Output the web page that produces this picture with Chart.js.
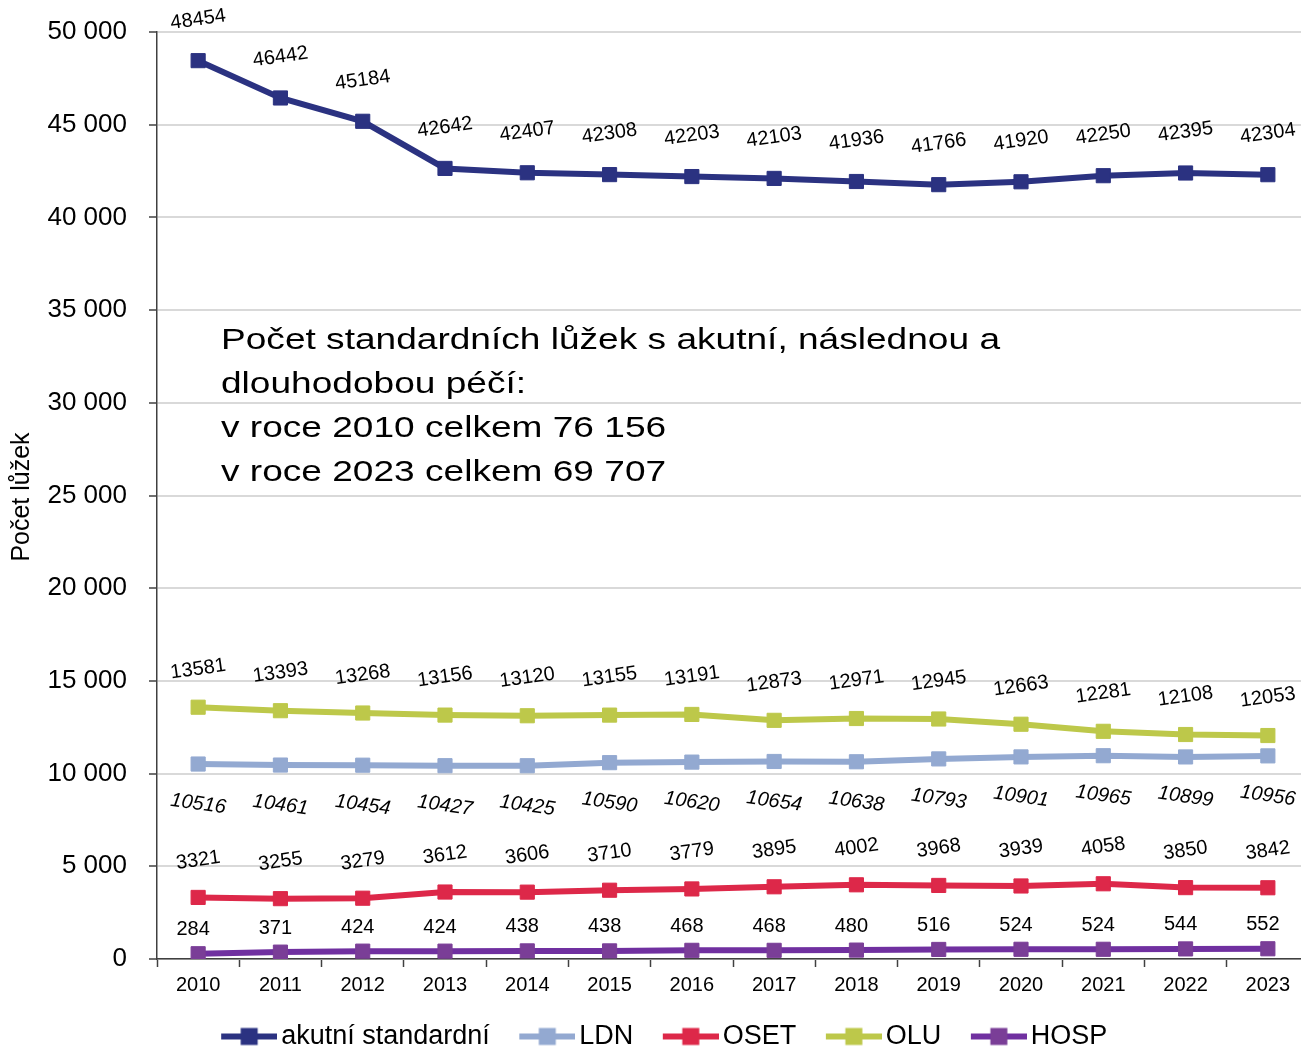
<!DOCTYPE html>
<html><head><meta charset="utf-8">
<script src="https://cdn.jsdelivr.net/npm/chart.js@4.4.1/dist/chart.umd.min.js"></script>
<style>html,body{margin:0;padding:0;overflow:hidden;background:#fff}canvas{display:block}</style>
</head><body><canvas id="c" width="1310" height="1060" style="width:1310px;height:1060px"></canvas>
<script>
const years = ['2010','2011','2012','2013','2014','2015','2016','2017','2018','2019','2020','2021','2022','2023'];
const akutni = [48454,46442,45184,42642,42407,42308,42203,42103,41936,41766,41920,42250,42395,42304];
const ldn    = [10516,10461,10454,10427,10425,10590,10620,10654,10638,10793,10901,10965,10899,10956];
const oset   = [3321,3255,3279,3612,3606,3710,3779,3895,4002,3968,3939,4058,3850,3842];
const olu    = [13581,13393,13268,13156,13120,13155,13191,12873,12971,12945,12663,12281,12108,12053];
const hosp   = [284,371,424,424,438,438,468,468,480,516,524,524,544,552];
const seriesNames = ['akutní standardní','LDN','OSET','OLU','HOSP'];
const yMin = 0, yMax = 50000, yStep = 5000;
const yTitle = 'Počet lůžek';
const noteLines = ['Počet standardních lůžek s akutní, následnou a','dlouhodobou péčí:','v roce 2010 celkem 76 156','v roce 2023 celkem 69 707'];

const FONT = "'Liberation Sans', Arial, sans-serif";
const colors = ['#2B3281','#93A9D1','#DD2849','#BDC84A','#7A3E97'];
const lineColors = ['#2B3281','#93A9D1','#DD2849','#BDC84A','#7030A0'];
const labelStyle = [
  {dx:0, dy:-41, rot:-8, italic:false},
  {dx:0, dy:40, rot:8, italic:true},
  {dx:0, dy:-37, rot:-8, italic:false},
  {dx:0, dy:-38, rot:-8, italic:false},
  {dx:-5, dy:-24, rot:0, italic:false}
];

function legendImg(lc, mc){
  const c = document.createElement('canvas');
  c.width = 85; c.height = 20;
  const g = c.getContext('2d');
  g.strokeStyle = lc; g.lineWidth = 6;
  g.beginPath(); g.moveTo(29,10); g.lineTo(85,10); g.stroke();
  g.fillStyle = mc; g.fillRect(48.5,1.5,17,17);
  return c;
}
const legendImgs = colors.map((c,i)=>legendImg(lineColors[i], c));

const seriesData = [akutni, ldn, oset, olu, hosp];
const datasets = seriesData.map((d,i)=>({
  label: seriesNames[i], data: d,
  borderColor: lineColors[i], backgroundColor: colors[i],
  pointBackgroundColor: colors[i], pointBorderColor: colors[i],
  borderWidth: 6, pointStyle: 'rect', pointRadius: 10, pointBorderWidth: 1,
  pointHoverRadius: 10, tension: 0, fill: false
}));

const labelPlugin = {
  id: 'vals',
  afterDatasetsDraw(chart){
    const ctx = chart.ctx;
    chart.data.datasets.forEach((ds, i)=>{
      const meta = chart.getDatasetMeta(i);
      const st = labelStyle[i];
      meta.data.forEach((pt, j)=>{
        ctx.save();
        ctx.translate(pt.x + st.dx, pt.y + st.dy);
        ctx.rotate(st.rot * Math.PI/180);
        ctx.font = (st.italic ? 'italic ' : '') + '20px ' + FONT;
        ctx.fillStyle = '#000';
        ctx.textAlign = 'center'; ctx.textBaseline = 'middle';
        ctx.fillText(String(ds.data[j]), 0, 0);
        ctx.restore();
      });
    });
  }
};

const textPlugin = {
  id: 'texts',
  afterDraw(chart){
    const ctx = chart.ctx;
    ctx.save();
    ctx.translate(22, 497);
    ctx.rotate(-Math.PI/2);
    ctx.font = '25px ' + FONT;
    ctx.fillStyle = '#000'; ctx.textAlign = 'center'; ctx.textBaseline = 'middle';
    ctx.fillText(yTitle, 0, 0);
    ctx.restore();
    ctx.save();
    ctx.font = '30px ' + FONT;
    const w = ctx.measureText(noteLines[0]).width;
    const sx = 779 / w;
    ctx.fillStyle = '#000'; ctx.textAlign = 'left'; ctx.textBaseline = 'middle';
    noteLines.forEach((t, k)=>{
      ctx.save();
      ctx.translate(221, 341 + k*44);
      ctx.scale(sx, 1);
      ctx.fillText(t, 0, 0);
      ctx.restore();
    });
    ctx.restore();
  }
};

new Chart(document.getElementById('c'), {
  type: 'line',
  data: { labels: years, datasets },
  options: {
    responsive: false, animation: false, devicePixelRatio: 1,
    layout: { autoPadding: false, padding: { top: 32, right: 1, left: 0, bottom: 0 } },
    plugins: {
      tooltip: { enabled: false },
      legend: {
        position: 'bottom',
        labels: {
          usePointStyle: true, pointStyleWidth: 66, boxHeight: 20, padding: 10,
          color: '#000', font: { family: FONT, size: 27 },
          generateLabels: (chart)=> chart.data.datasets.map((ds,i)=>({
            text: ds.label, pointStyle: legendImgs[i], fillStyle: colors[i],
            strokeStyle: colors[i], lineWidth: 0, hidden: false, datasetIndex: i, fontColor: '#000'
          }))
        }
      }
    },
    scales: {
      x: {
        offset: true,
        grid: { offset: true, drawOnChartArea: false, drawTicks: true, tickLength: 8, tickColor: '#404040', tickWidth: 1.5 },
        border: { color: '#404040', width: 1.5 },
        ticks: { color: '#000', font: { family: FONT, size: 20 }, padding: 6, maxRotation: 0 },
        afterFit: (s)=>{ s.height = 54; }
      },
      y: {
        min: yMin, max: yMax,
        grid: { color: '#D9D9D9', lineWidth: 2, drawTicks: true, tickLength: 8, tickColor: '#404040', tickWidth: 1.5 },
        border: { color: '#404040', width: 1.5 },
        ticks: { stepSize: yStep, color: '#000', font: { family: FONT, size: 26, lineHeight: 0.75 }, padding: 22,
          callback: (v)=> String(v).replace(/\B(?=(\d{3})+(?!\d))/g, ' ') },
        afterFit: (s)=>{ s.width = 157; }
      }
    }
  },
  plugins: [labelPlugin, textPlugin]
});
</script></body></html>
